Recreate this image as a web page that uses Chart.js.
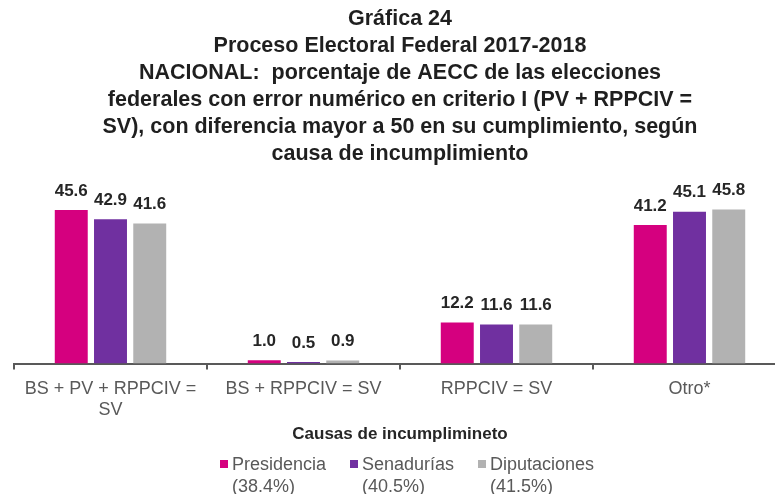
<!DOCTYPE html>
<html>
<head>
<meta charset="utf-8">
<script src="https://cdn.jsdelivr.net/npm/chart.js@4/dist/chart.umd.min.js"></script>
<style>
  html, body { margin:0; padding:0; background:#fff; overflow:hidden; }
  body { width:775px; height:494px; position:relative; font-family:"Liberation Sans", Arial, sans-serif; }
  #wrap { position:absolute; left:0; top:0; width:790px; height:494px; }
  #legend-title { position:absolute; left:0; width:800px; top:424px; text-align:center;
    font-weight:bold; font-size:17px; color:#262626; }
  .leg-item { position:absolute; top:453px; font-size:18px; line-height:22px; color:#595959; }
  .leg-box { position:absolute; left:-12px; top:7px; width:8px; height:8px; }
</style>
</head>
<body>
<div id="wrap"><canvas id="chart" width="790" height="494"></canvas></div>
<div id="legend-title">Causas de incumplimineto</div>
<div id="legend"></div>

<script>
// ── DATA ──────────────────────────────────────────────────
const categories   = [['BS + PV + RPPCIV =', 'SV'], 'BS + RPPCIV = SV', 'RPPCIV = SV', 'Otro*'];
const seriesNames  = ['Presidencia', 'Senadurías', 'Diputaciones'];
const seriesShares = ['(38.4%)', '(40.5%)', '(41.5%)'];
const presidencia  = [45.6, 1.0, 12.2, 41.2];
const senadurias   = [42.9, 0.5, 11.6, 45.1];
const diputaciones = [41.6, 0.9, 11.6, 45.8];
const colors       = ['#D5007F', '#7030A0', '#B2B2B2'];

const titleLines = [
  'Gráfica 24',
  'Proceso Electoral Federal 2017-2018',
  'NACIONAL:  porcentaje de AECC de las elecciones',
  'federales con error numérico en criterio I (PV + RPPCIV =',
  'SV), con diferencia mayor a 50 en su cumplimiento, según',
  'causa de incumplimiento'
];

// ── VALUE LABELS ON TOP OF BARS ───────────────────────────
const valueLabels = {
  id: 'valueLabels',
  afterDatasetsDraw(chart) {
    const ctx = chart.ctx;
    ctx.save();
    ctx.font = 'bold 17px "Liberation Sans", Arial, sans-serif';
    ctx.fillStyle = '#262626';
    ctx.textAlign = 'center';
    ctx.textBaseline = 'middle';
    chart.data.datasets.forEach((ds, i) => {
      chart.getDatasetMeta(i).data.forEach((bar, j) => {
        ctx.fillText(ds.data[j].toFixed(1), bar.x, bar.y - 19);
      });
    });
    ctx.restore();
  }
};

const series = [presidencia, senadurias, diputaciones];

new Chart(document.getElementById('chart'), {
  type: 'bar',
  data: {
    labels: categories,
    datasets: series.map((d, i) => ({
      label: seriesNames[i],
      data: d,
      backgroundColor: colors[i],
      categoryPercentage: 0.61,
      barPercentage: 0.84
    }))
  },
  plugins: [valueLabels],
  options: {
    responsive: false,
    animation: false,
    layout: { padding: { left: 14, right: 4, top: 0, bottom: 65 } },
    plugins: {
      legend: { display: false },
      tooltip: { enabled: false },
      title: {
        display: true,
        text: titleLines,
        color: '#1f1f1f',
        font: { family: '"Liberation Sans", Arial, sans-serif', size: 21.5, weight: 'bold', lineHeight: 1.25 },
        padding: { top: 6, bottom: 28 }
      }
    },
    scales: {
      y: { display: false, min: 0, max: 50 },
      x: {
        border: { display: true, color: '#595959', width: 2 },
        grid: { display: true, drawOnChartArea: false, drawTicks: true, tickLength: 6, color: '#595959', lineWidth: 2 },
        ticks: {
          color: '#595959',
          padding: 9,
          maxRotation: 0,
          font: { family: '"Liberation Sans", Arial, sans-serif', size: 18, lineHeight: 1.15 }
        }
      }
    }
  }
});

// ── LEGEND (two-line labels) ─────────────────────────────
const legendX = [232, 362, 490];
document.getElementById('legend').innerHTML = seriesNames.map((name, i) => `
  <div class="leg-item" style="left:${legendX[i]}px">
    <span class="leg-box" style="background:${colors[i]}"></span>${name}<br>${seriesShares[i]}
  </div>`).join('');
</script>
</body>
</html>
